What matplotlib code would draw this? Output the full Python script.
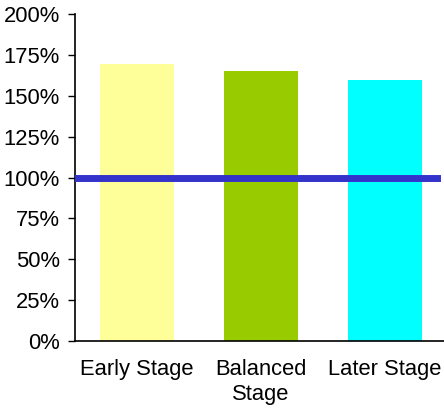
import matplotlib
matplotlib.use("Agg")
import matplotlib.pyplot as plt
from matplotlib.ticker import FuncFormatter

plt.rcParams["font.family"] = ["Liberation Sans", "DejaVu Sans"]

# Stage comparison data (percent)
stages = ["Early Stage", "Balanced\nStage", "Later Stage"]
values = [169.4, 165.1, 159.6]
bar_colors = ["#FFFF99", "#99CC00", "#00FFFF"]
reference_level = 100
y_ticks = [0, 25, 50, 75, 100, 125, 150, 175, 200]

fig = plt.figure(figsize=(4.44, 4.09), dpi=100)
ax = fig.add_axes([75 / 444, 1 - 341 / 409, 372 / 444, (341 - 14) / 409])

x = range(len(stages))
ax.bar(x, values, width=0.6, color=bar_colors, zorder=2)
ax.axhline(reference_level, xmin=0, xmax=0.974, color="#3333CC", linewidth=5, zorder=3)

ax.set_xlim(-0.5, len(stages) - 0.5)
ax.set_ylim(0, 200)
ax.set_yticks(y_ticks)
ax.yaxis.set_major_formatter(FuncFormatter(lambda v, p: f"{v:.0f}%"))
ax.set_xticks(list(x))
ax.set_xticklabels(stages, fontsize=15.8, linespacing=1.25)

ax.tick_params(axis="y", direction="out", length=5, width=1, pad=6, labelsize=15.8, colors="black")
ax.tick_params(axis="x", length=0, pad=13)

for side in ("top", "right"):
    ax.spines[side].set_visible(False)
for side in ("left", "bottom"):
    ax.spines[side].set_linewidth(1.2)
    ax.spines[side].set_color("black")

fig.savefig("out.png", dpi=100)
